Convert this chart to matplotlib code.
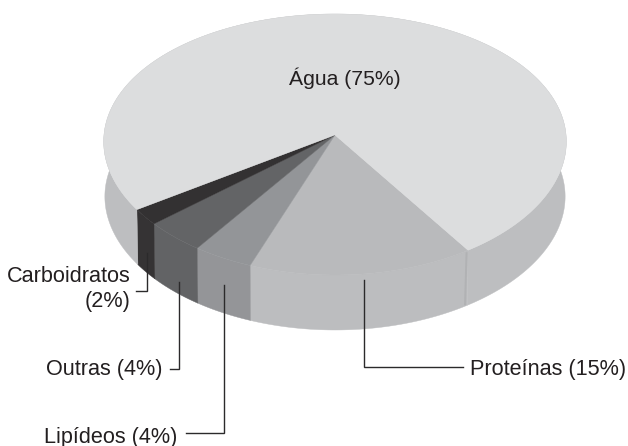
import numpy as np
import matplotlib
matplotlib.use("Agg")
import matplotlib.pyplot as plt
from matplotlib.patches import Polygon

plt.rcParams["font.family"] = ["Liberation Sans", "DejaVu Sans"]

# slices clockwise on screen, starting at the water/protein border
names = ["Proteínas", "Lipídeos", "Outras", "Carboidratos", "Água"]
values = [15, 4, 4, 2, 75]
top_colors = ["#b9babc", "#939598", "#636466", "#333132", "#dcddde"]
side_colors = ["#bcbdbf", "#949598", "#626365", "#353334", "#bdbec0"]

START_DEG = 56.5
CX, CY = 335, 135
A, B = 231, 129.8
KX, KY = 0.05, 0.0728
DEPTH = 55
TAPER = 0.995


def project(t):
    # circle seen in perspective, the near edge is stretched a little
    u, v = np.cos(t), np.sin(t)
    return CX + A * u / (1 - KX * v), CY + B * v / (1 - KY * v)


def draw_pie(ax):
    edges = np.radians(START_DEG + 360 * np.cumsum([0] + values) / sum(values))
    arcs = []
    for i in range(len(values)):
        n = max(int((edges[i + 1] - edges[i]) * 60), 8)
        t = np.linspace(edges[i], edges[i + 1], n)
        arcs.append(project(t))

    for (x, y), col in zip(arcs, side_colors):
        xb = CX + (x - CX) * TAPER
        xy = np.r_[np.c_[x, y], np.c_[xb, y + DEPTH][::-1]]
        ax.add_patch(Polygon(xy, closed=True, fc=col, ec=col, lw=0.3, zorder=2))

    # the faint seam on the side, next to the water slice
    x0, y0 = project(np.radians(START_DEG))
    ax.plot([x0 - 1.5, x0 - 3], [y0 + 3, y0 + DEPTH - 1], color="#b1b2b4", lw=1.4, zorder=3)

    for (x, y), col in zip(arcs, top_colors):
        xy = np.r_[[[CX, CY]], np.c_[x, y]]
        ax.add_patch(Polygon(xy, closed=True, fc=col, ec=col, lw=0.3, zorder=4))


fig = plt.figure(figsize=(6.28, 4.46), dpi=100)
ax = fig.add_axes([0, 0, 1, 1])
ax.set_xlim(0, 628)
ax.set_ylim(446, 0)
ax.axis("off")

draw_pie(ax)

leaders = [
    ([147, 147, 136], [253, 291, 291]),
    ([179, 179, 170], [282, 369, 369]),
    ([224, 224, 186], [285, 433, 433]),
    ([364, 364, 463], [280, 367, 367]),
]
for lx, ly in leaders:
    ax.plot(lx, ly, color="#2b2a2b", lw=1.0, zorder=5, solid_joinstyle="miter")

fs = 15.6
txt = "#231f20"
ax.text(345, 78, f"{names[4]} ({values[4]}%)", fontsize=15.2, color=txt, ha="center", va="center", zorder=6)
ax.text(131, 276, names[3], fontsize=fs, color=txt, ha="right", va="center", zorder=6)
ax.text(131, 302, f"({values[3]}%)", fontsize=fs, color=txt, ha="right", va="center", zorder=6)
ax.text(163, 369, f"{names[2]} ({values[2]}%)", fontsize=fs, color=txt, ha="right", va="center", zorder=6)
ax.text(177, 437, f"{names[1]} ({values[1]}%)", fontsize=fs, color=txt, ha="right", va="center", zorder=6)
ax.text(470, 369, f"{names[0]} ({values[0]}%)", fontsize=fs, color=txt, ha="left", va="center", zorder=6)

fig.savefig("out.png", dpi=100, facecolor="white")
plt.close(fig)
